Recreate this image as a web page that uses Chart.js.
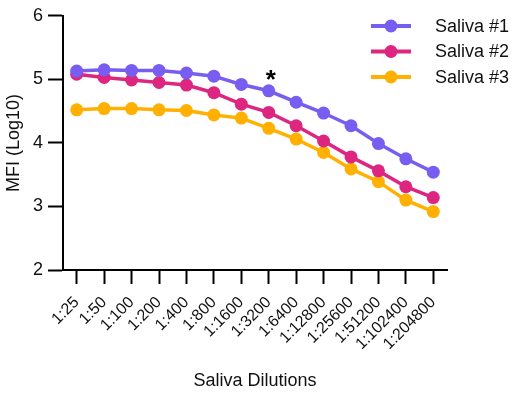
<!DOCTYPE html>
<html>
<head>
<meta charset="utf-8">
<script src="https://cdn.jsdelivr.net/npm/chart.js@4/dist/chart.umd.min.js"></script>
<style>
  html, body { margin: 0; padding: 0; background: #fff; }
  #wrap { width: 515px; height: 395px; }
</style>
</head>
<body>
<div id="wrap"><canvas id="c" width="515" height="395"></canvas></div>
<script>
// Saliva dilution series and MFI readings (log10)
const dilutions = ['1:25', '1:50', '1:100', '1:200', '1:400', '1:800', '1:1600', '1:3200',
  '1:6400', '1:12800', '1:25600', '1:51200', '1:102400', '1:204800'];
const saliva1 = [5.13, 5.15, 5.14, 5.14, 5.10, 5.05, 4.92, 4.82, 4.64, 4.47, 4.27, 3.99, 3.75, 3.54];
const saliva2 = [5.08, 5.03, 4.99, 4.95, 4.91, 4.79, 4.61, 4.48, 4.27, 4.03, 3.78, 3.56, 3.31, 3.14];
const saliva3 = [4.52, 4.54, 4.54, 4.52, 4.51, 4.44, 4.39, 4.23, 4.06, 3.85, 3.59, 3.39, 3.10, 2.92];
const seriesNames = ['Saliva #1', 'Saliva #2', 'Saliva #3'];
const seriesColors = ['#785EF0', '#DC267F', '#FFB000'];
const yTicks = [2, 3, 4, 5, 6];
// significance mark: placed above the Saliva #1 point at this dilution
const significance = [{ label: '1:3200', series: 0, text: '*' }];

const FONT = '"Liberation Sans", Arial, Helvetica, sans-serif';

const seriesValues = [saliva1, saliva2, saliva3];
const datasets = seriesValues.map((vals, i) => ({
  label: seriesNames[i],
  data: vals,
  borderColor: seriesColors[i],
  backgroundColor: seriesColors[i],
  pointBackgroundColor: seriesColors[i],
  pointBorderColor: seriesColors[i],
  borderWidth: 3.5,
  pointRadius: 6.5,
  pointHoverRadius: 6.5,
  pointBorderWidth: 0,
  tension: 0,
  clip: false,
  order: i
}));

// Legend drawn in the upper-right corner: line + dot + label
const cornerLegend = {
  id: 'cornerLegend',
  afterDraw(chart) {
    const ctx = chart.ctx;
    ctx.save();
    seriesNames.forEach((name, i) => {
      const y = 26 + i * 25.5;
      ctx.strokeStyle = seriesColors[i];
      ctx.lineWidth = 4;
      ctx.beginPath();
      ctx.moveTo(371, y);
      ctx.lineTo(411, y);
      ctx.stroke();
      ctx.fillStyle = seriesColors[i];
      ctx.beginPath();
      ctx.arc(391, y, 6.5, 0, Math.PI * 2);
      ctx.fill();
      ctx.fillStyle = '#111';
      ctx.font = '18px ' + FONT;
      ctx.textAlign = 'left';
      ctx.textBaseline = 'middle';
      ctx.fillText(name, 435, y + 1);
    });
    ctx.restore();
  }
};

// Significance asterisk drawn above the chosen point
const sigMarks = {
  id: 'sigMarks',
  afterDatasetsDraw(chart) {
    const ctx = chart.ctx;
    const xs = chart.scales.x, ys = chart.scales.y;
    ctx.save();
    significance.forEach(m => {
      const idx = dilutions.indexOf(m.label);
      const px = xs.getPixelForValue(idx);
      const py = ys.getPixelForValue(seriesValues[m.series][idx]);
      ctx.fillStyle = '#000';
      ctx.font = 'bold 26px ' + FONT;
      ctx.textAlign = 'center';
      ctx.textBaseline = 'middle';
      ctx.fillText(m.text, px + 2, py - 10);
    });
    ctx.restore();
  }
};

new Chart(document.getElementById('c'), {
  type: 'line',
  data: { labels: dilutions, datasets },
  options: {
    responsive: false,
    animation: false,
    events: [],
    layout: { padding: { left: 0, right: 68, top: 15, bottom: 0 } },
    plugins: { legend: { display: false }, tooltip: { enabled: false } },
    scales: {
      x: {
        type: 'category',
        offset: true,
        afterFit(s) { s.height = 125; },
        border: { display: true, color: '#000', width: 2 },
        grid: { display: true, drawOnChartArea: false, drawTicks: true, tickLength: 14, tickWidth: 2, tickColor: '#000', offset: false },
        ticks: {
          color: '#111',
          font: { family: FONT, size: 16 },
          minRotation: 45, maxRotation: 45,
          autoSkip: false,
          padding: 9
        },
        title: {
          display: true,
          text: 'Saliva Dilutions',
          color: '#111',
          font: { family: FONT, size: 18 },
          padding: { top: 0, bottom: 3 }
        }
      },
      y: {
        min: 2, max: 6,
        afterFit(s) { s.width = 63; },
        afterBuildTicks(s) { s.ticks = yTicks.map(v => ({ value: v })); },
        border: { display: true, color: '#000', width: 2 },
        grid: { display: true, drawOnChartArea: false, drawTicks: true, tickLength: 15, tickWidth: 2, tickColor: '#000' },
        ticks: {
          color: '#111',
          font: { family: FONT, size: 18 },
          padding: 5
        },
        title: {
          display: true,
          text: 'MFI (Log10)',
          color: '#111',
          font: { family: FONT, size: 18 },
          padding: { top: 3, bottom: 0 }
        }
      }
    }
  },
  plugins: [cornerLegend, sigMarks]
});
</script>
</body>
</html>
